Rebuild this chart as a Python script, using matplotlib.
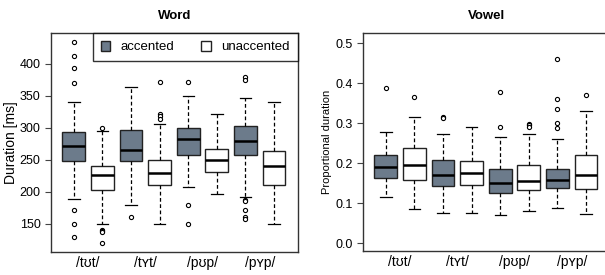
import matplotlib
matplotlib.use("Agg")
import matplotlib.pyplot as plt
from matplotlib.patches import Patch

plt.rcParams['font.family'] = ['Liberation Sans', 'DejaVu Sans']

# order: /tʊt/ acc, /tʊt/ unacc, /tʏt/ acc, /tʏt/ unacc, /pʊp/ acc, /pʊp/ unacc, /pʏp/ acc, /pʏp/ unacc
words = ["/tʊt/", "/tʏt/", "/pʊp/", "/pʏp/"]
accent = ["accented", "unaccented"] * 4

# Word duration (ms)
word_whishi = [341, 295, 363, 306, 349, 322, 346, 340]
word_q3 = [293, 241, 296, 250, 300, 267, 302, 263]
word_med = [272, 226, 265, 229, 282, 249, 280, 240]
word_q1 = [248, 203, 248, 210, 257, 231, 258, 210]
word_whislo = [189, 150, 179, 150, 207, 197, 192, 150]
word_fliers = [
    [434, 412, 393, 370, 171, 150, 130],
    [300, 141, 139, 138, 120],
    [160],
    [371, 322, 318, 314],
    [371, 180, 150],
    [],
    [379, 375, 187, 185, 171, 160, 158],
    [],
]

# Vowel proportional duration
vow_whishi = [0.277, 0.314, 0.272, 0.290, 0.264, 0.272, 0.260, 0.330]
vow_q3 = [0.221, 0.238, 0.208, 0.205, 0.185, 0.194, 0.186, 0.220]
vow_med = [0.190, 0.196, 0.171, 0.176, 0.151, 0.155, 0.157, 0.169]
vow_q1 = [0.163, 0.157, 0.142, 0.144, 0.124, 0.132, 0.137, 0.134]
vow_whislo = [0.115, 0.084, 0.074, 0.076, 0.070, 0.080, 0.087, 0.072]
vow_fliers = [
    [0.388],
    [0.366],
    [0.314, 0.313],
    [],
    [0.377, 0.291],
    [0.298, 0.294, 0.290],
    [0.459, 0.360, 0.334, 0.301, 0.287],
    [0.371],
]

acc_color = "#6C7B8B"
edge = "#222222"


def make_stats(whislo, q1, med, q3, whishi, fliers):
    return [dict(whislo=a, q1=b, med=c, q3=d, whishi=e, fliers=f)
            for a, b, c, d, e, f in zip(whislo, q1, med, q3, whishi, fliers)]


def draw(ax, stats):
    pos = list(range(1, len(stats) + 1))
    bp = ax.bxp(stats, positions=pos, widths=0.8, patch_artist=True,
                boxprops=dict(edgecolor=edge, linewidth=1.0),
                medianprops=dict(color="black", linewidth=1.8),
                whiskerprops=dict(color="black", linewidth=0.9, linestyle=(0, (3, 2))),
                capprops=dict(color="black", linewidth=0.9),
                flierprops=dict(marker="o", markersize=3, markerfacecolor="white",
                                markeredgecolor="black", markeredgewidth=0.8),
                capwidths=0.4)
    for i, box in enumerate(bp["boxes"]):
        box.set_facecolor(acc_color if accent[i] == "accented" else "white")
    ax.set_xlim(0.2, 8.84)
    ax.set_xticks([1.5, 3.5, 5.5, 7.5])
    ax.set_xticklabels(words, fontsize=10)
    ax.tick_params(axis="x", length=0, pad=3)
    ax.tick_params(axis="y", labelsize=9, length=4, width=0.8, color="#444444")
    for s in ax.spines.values():
        s.set_color("#333333")
        s.set_linewidth(1.0)


fig = plt.figure(figsize=(6.05, 2.75), dpi=100)
ax1 = fig.add_axes([51 / 605, 23 / 275, 247 / 605, 219 / 275])
ax2 = fig.add_axes([363 / 605, 24 / 275, 247 / 605, 218 / 275])

draw(ax1, make_stats(word_whislo, word_q1, word_med, word_q3, word_whishi, word_fliers))
ax1.set_ylim(106, 448)
ax1.set_yticks([150, 200, 250, 300, 350, 400])
ax1.set_ylabel("Duration [ms]", fontsize=10, labelpad=1)
ax1.set_title("Word", fontsize=9.5, fontweight="bold", pad=10)
handles = [Patch(facecolor=acc_color, edgecolor=edge, label="accented"),
           Patch(facecolor="white", edgecolor=edge, label="unaccented")]
leg = ax1.legend(handles=handles, loc="upper right", ncol=2, fontsize=9.5,
                 frameon=True, fancybox=False, borderaxespad=0,
                 handlelength=0.75, handleheight=0.75, handletextpad=0.8,
                 columnspacing=2.0, borderpad=0.6)
leg.get_frame().set_edgecolor("black")
leg.get_frame().set_linewidth(1.0)

draw(ax2, make_stats(vow_whislo, vow_q1, vow_med, vow_q3, vow_whishi, vow_fliers))
ax2.set_ylim(-0.02, 0.525)
ax2.set_yticks([0.0, 0.1, 0.2, 0.3, 0.4, 0.5])
ax2.set_yticklabels(["0.0", "0.1", "0.2", "0.3", "0.4", "0.5"])
ax2.set_ylabel("Proportional duration", fontsize=8, labelpad=2)
ax2.set_title("Vowel", fontsize=9.5, fontweight="bold", pad=10)

fig.savefig("out.png", dpi=100)
